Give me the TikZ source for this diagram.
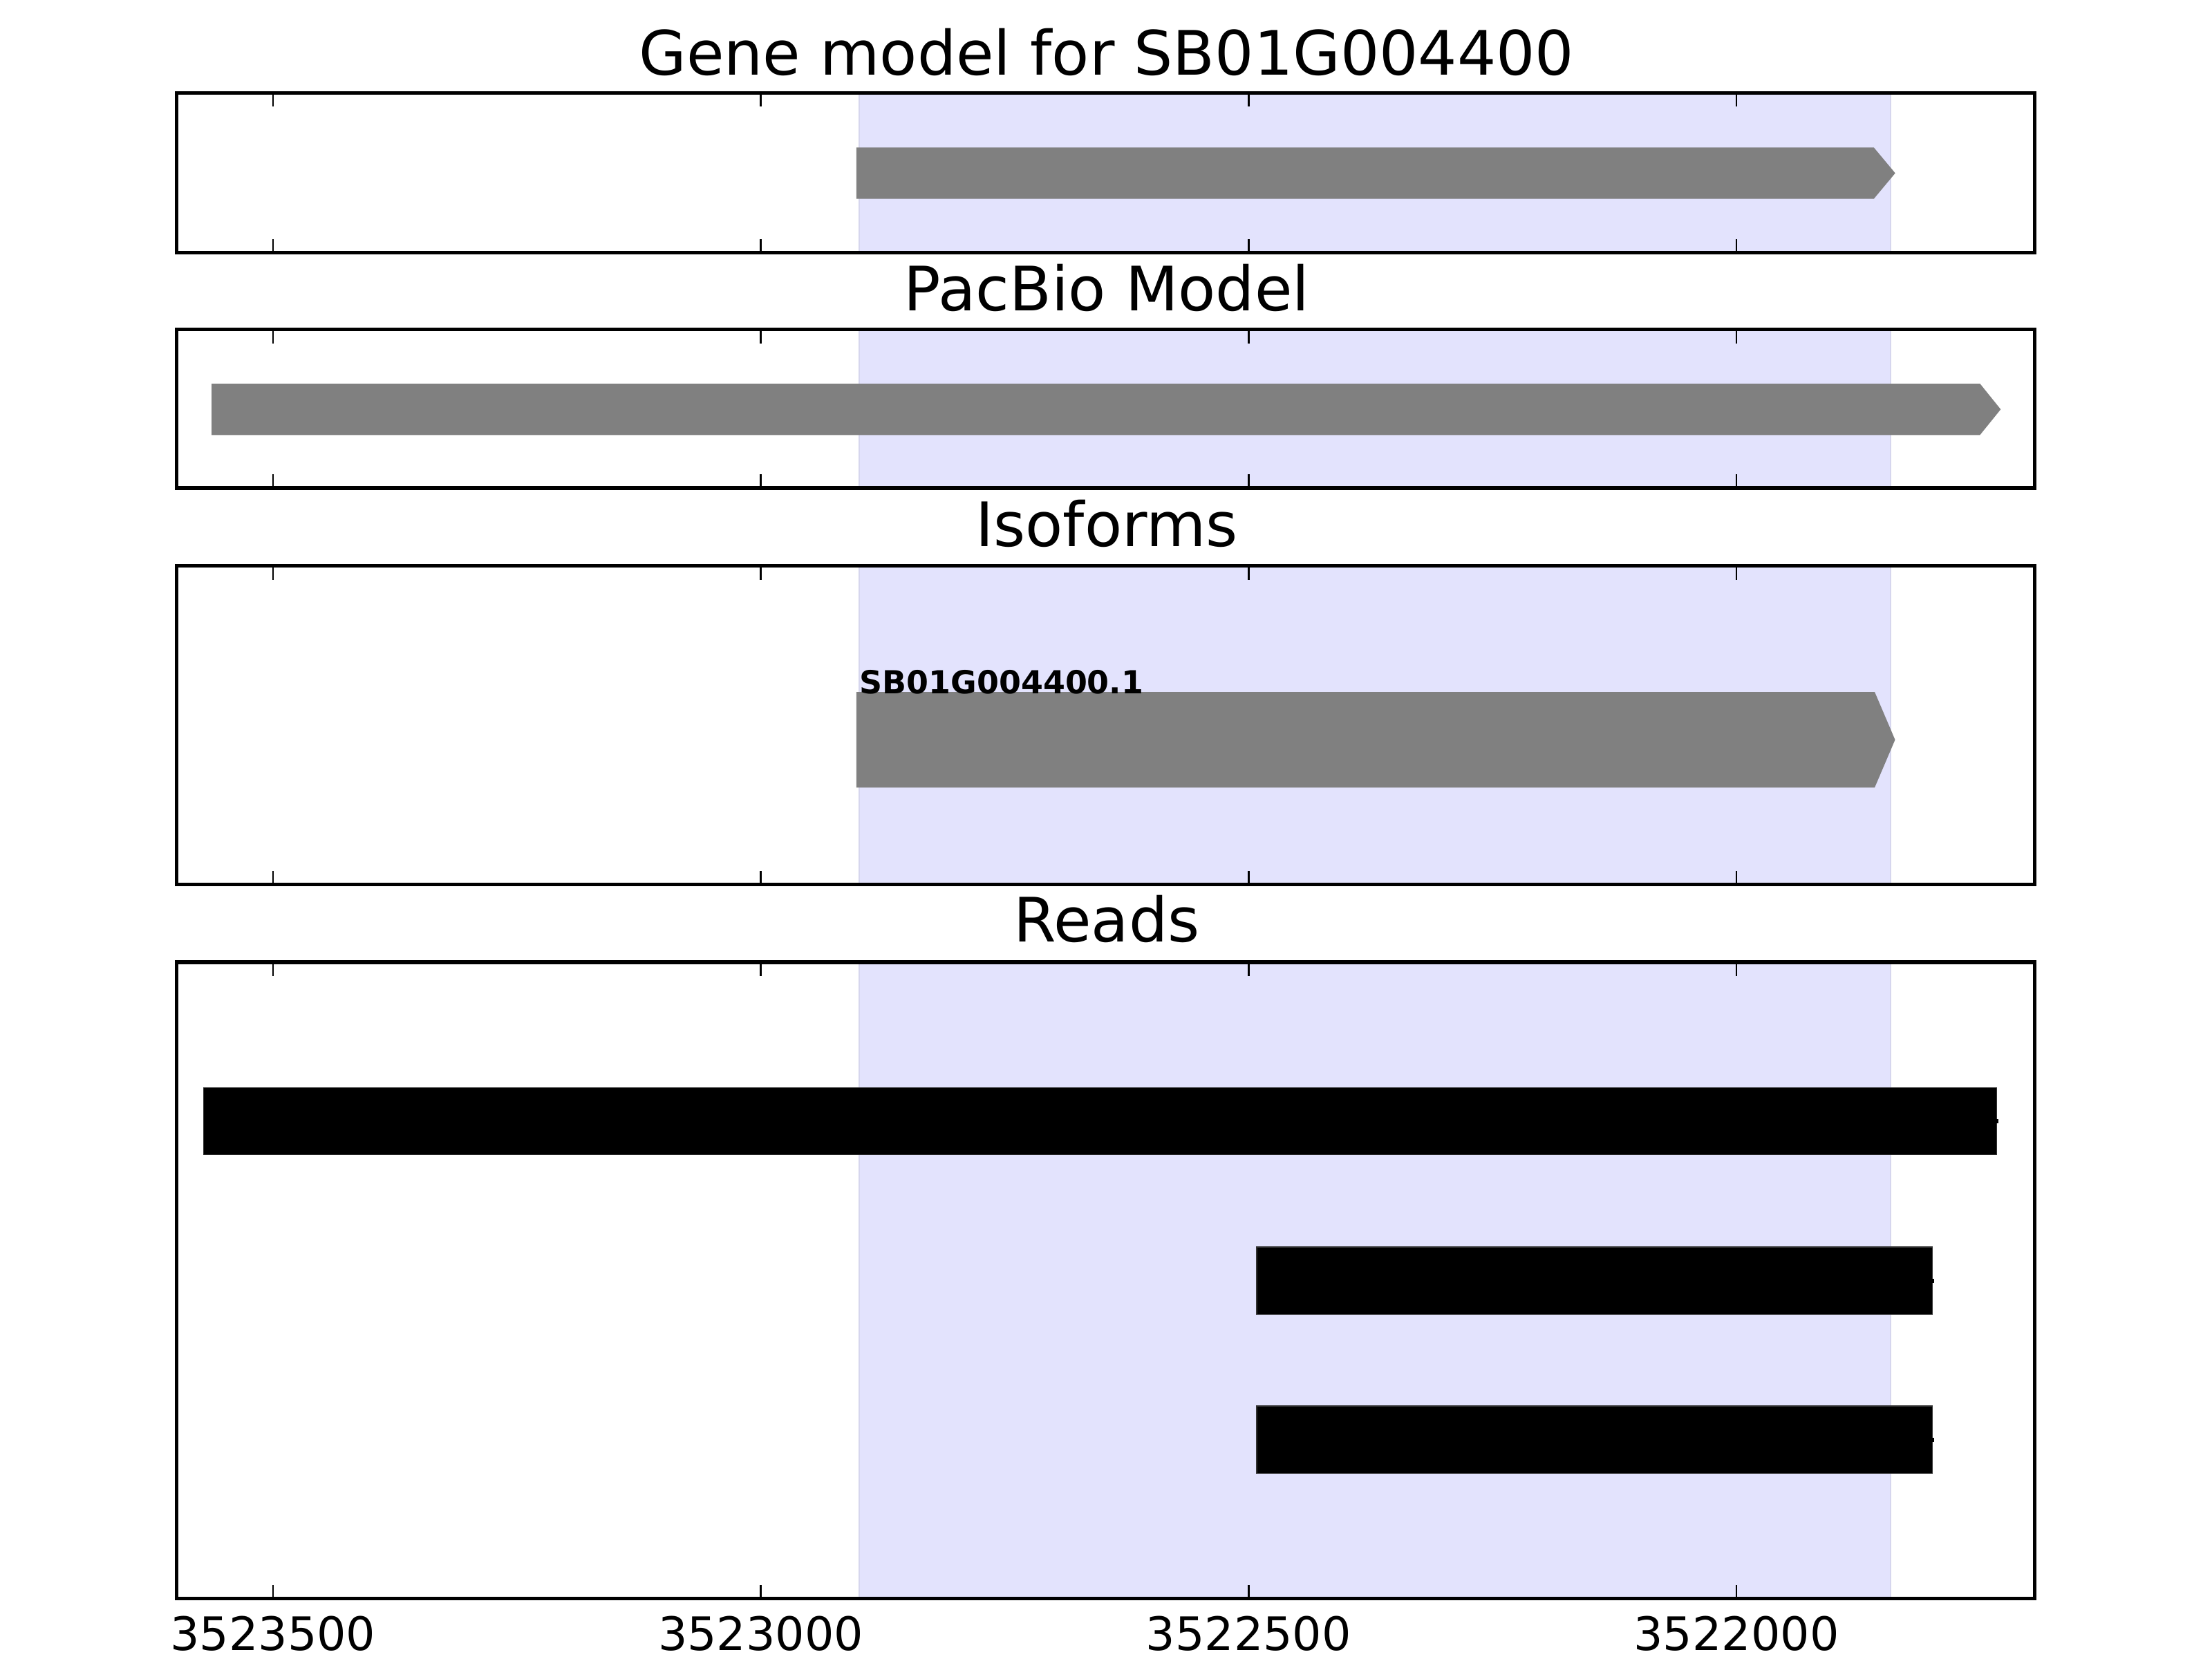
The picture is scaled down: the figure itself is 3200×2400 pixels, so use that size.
\documentclass[tikz,border=0pt]{standalone}
\usepackage{fontspec}
\setmainfont{DejaVu Sans}
\definecolor{shade}{RGB}{227,227,253}
\definecolor{shadeedge}{RGB}{214,214,238}
\definecolor{genegrey}{RGB}{128,128,128}
\tikzset{
  frame/.style={draw=black,line width=1.56pt},
  tickmark/.style={draw=black,line width=0.7pt},
  titletext/.style={anchor=base,inner sep=0pt,font=\fontsize{25.2}{30}\selectfont},
  ticktext/.style={anchor=base,inner sep=0pt,font=\fontsize{18.97}{22}\selectfont},
  isotext/.style={anchor=base west,inner sep=0pt,font=\fontsize{13.05}{15}\selectfont\bfseries},
  genebar/.style={fill=genegrey,draw=none},
  readbar/.style={fill=black,draw=black!80,line width=0.3pt},
  shadebox/.style={fill=shade,draw=shadeedge,line width=0.5pt}
}
\begin{document}
\begin{tikzpicture}[x=0.01cm,y=-0.01cm]
\useasboundingbox[fill=white] (0,0) rectangle (3200,2400);
% panel geometry: left 255.5, right 2943.5
\foreach \top/\bot in {134.5/365.5, 476.5/706, 818.5/1279.5, 1392/2312.5}{
  \fill[shadebox] (1243,\top) rectangle (2735,\bot);
}
% Panel 1: gene model
\fill[genebar] (1238.8,213.3) -- (2710.7,213.3) -- (2741.7,250.5) -- (2710.7,287.7) -- (1238.8,287.7) -- cycle;
% Panel 2: PacBio model
\fill[genebar] (306,555) -- (2864.3,555) -- (2894.3,592.2) -- (2864.3,629.3) -- (306,629.3) -- cycle;
% Panel 3: isoforms
\fill[genebar] (1238.8,1001) -- (2712,1001) -- (2741.5,1070.2) -- (2712,1139.3) -- (1238.8,1139.3) -- cycle;
\node[isotext] (isolabel) at (1243,1003) {SB01G004400.1};
% Panel 4: reads
\filldraw[readbar] (294.3,1573.3) rectangle (2888.7,1670.4);
\fill[black] (2888,1618.5) rectangle (2891,1624.5);
\filldraw[readbar] (1818,1804) rectangle (2795.7,1901.3);
\fill[black] (2795,1849.7) rectangle (2798,1855.7);
\filldraw[readbar] (1818,2034) rectangle (2795.7,2131.3);
\fill[black] (2795,2079.7) rectangle (2798,2085.7);
% ticks and frames
\foreach \top/\bot in {134.5/365.5, 476.5/706, 818.5/1279.5, 1392/2312.5}{
  \foreach \tx in {394.9,1100.6,1806.3,2512}{
    \draw[tickmark] (\tx,\top) -- ++(0,20);
    \draw[tickmark] (\tx,\bot) -- ++(0,-20);
  }
  \draw[frame] (255.5,\top) rectangle (2943.5,\bot);
}
% titles
\node[titletext] (t1) at (1601,108.3) {Gene model for SB01G004400};
\node[titletext] (t2) at (1601,449.3) {PacBio Model};
\node[titletext] (t3) at (1601,790.7) {Isoforms};
\node[titletext] (t4) at (1601,1362.7) {Reads};
% tick labels
\node[ticktext] (l1) at (394.9,2387.3) {3523500};
\node[ticktext] (l2) at (1100.6,2387.3) {3523000};
\node[ticktext] (l3) at (1806.3,2387.3) {3522500};
\node[ticktext] (l4) at (2512,2387.3) {3522000};
\end{tikzpicture}
\end{document}
